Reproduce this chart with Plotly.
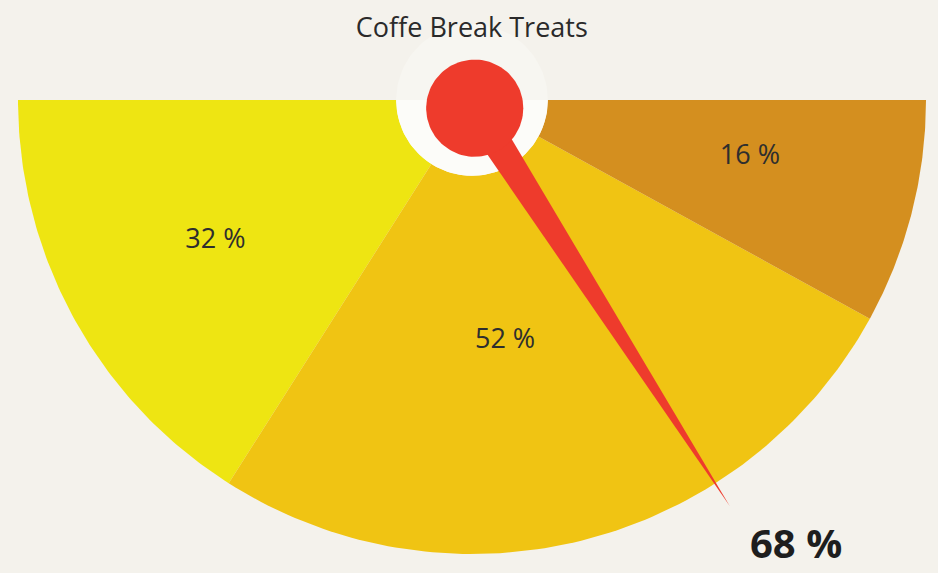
import numpy as np
import plotly.graph_objects as go

title = "Coffe Break Treats"
labels = ["32 %", "52 %", "16 %"]
shares = [32, 52, 16]
colors = ["#EEE512", "#F0C413", "#D48F1F"]
pointer_value = 68
pointer_label = "68 %"

# label placement (radius fraction, angle nudge in degrees)
label_radius = [0.645, 0.537, 0.625]
label_nudge = [0, -6.6, 2.8]

bg = "#F4F2EC"
font = "Open Sans"


def circle(cx, cy, r, t0=0, t1=2 * np.pi, n=120):
    t = np.linspace(t0, t1, n)
    return cx + r * np.cos(t), cy + r * np.sin(t)


fig = go.Figure()

# half-disc slices, 100 % = 180 degrees, starting at the left
cum = 0
mids = []
for share, col in zip(shares, colors):
    a0 = np.radians(180 + cum * 1.8)
    a1 = np.radians(180 + (cum + share) * 1.8)
    t = np.linspace(a0, a1, 100)
    x = np.concatenate([[0], np.cos(t), [0]])
    y = np.concatenate([[0], np.sin(t), [0]])
    fig.add_trace(go.Scatter(x=x, y=y, mode="lines", fill="toself",
                             fillcolor=col, line=dict(width=0),
                             hoverinfo="skip", showlegend=False))
    mids.append(np.degrees((a0 + a1) / 2))
    cum += share

# hole in the middle (faint above the edge, white below)
hx, hy = circle(0, 0, 0.167)
fig.add_trace(go.Scatter(x=hx, y=hy, mode="lines", fill="toself",
                         fillcolor="#F7F6F1", line=dict(width=0),
                         hoverinfo="skip", showlegend=False))
hx, hy = circle(0, 0, 0.167, np.pi, 2 * np.pi)
fig.add_trace(go.Scatter(x=hx, y=hy, mode="lines", fill="toself",
                         fillcolor="#FCFCF9", line=dict(width=0),
                         hoverinfo="skip", showlegend=False))

# needle
ang = np.radians(180 + pointer_value * 1.8)
cx, cy = 0.006, -0.018
w = 0.035
tip = (1.06 * np.cos(ang), 1.06 * np.sin(ang))
px, py = -np.sin(ang), np.cos(ang)
fig.add_trace(go.Scatter(x=[cx + w * px, tip[0], cx - w * px, cx + w * px],
                         y=[cy + w * py, tip[1], cy - w * py, cy + w * py],
                         mode="lines", fill="toself", fillcolor="#EE3B2C",
                         line=dict(width=0), hoverinfo="skip", showlegend=False))
rx, ry = circle(cx, cy, 0.107)
fig.add_trace(go.Scatter(x=rx, y=ry, mode="lines", fill="toself",
                         fillcolor="#EE3B2C", line=dict(width=0),
                         hoverinfo="skip", showlegend=False))

# slice labels
la = [np.radians(m + d) for m, d in zip(mids, label_nudge)]
fig.add_trace(go.Scatter(
    x=[r * np.cos(a) for r, a in zip(label_radius, la)],
    y=[r * np.sin(a) for r, a in zip(label_radius, la)],
    mode="text", text=labels,
    textfont=dict(family=font, size=27, color="#2E2E2E"),
    hoverinfo="skip", showlegend=False))

fig.add_annotation(x=tip[0] + 0.145, y=tip[1] - 0.08, text="<b>" + pointer_label + "</b>",
                   showarrow=False, font=dict(family=font, size=40, color="#1E1E1E"))

fig.update_layout(
    width=938, height=573,
    margin=dict(l=0, r=0, t=0, b=0),
    paper_bgcolor=bg, plot_bgcolor=bg,
    title=dict(text=title, x=0.503, y=1 - 28 / 573, xanchor="center", yanchor="middle",
               font=dict(family=font, size=27, color="#2A2A2A")),
    xaxis=dict(range=[-472 / 454, 466 / 454], visible=False, fixedrange=True),
    yaxis=dict(range=[-473 / 454, 100 / 454], visible=False, fixedrange=True),
)

fig.write_html("out.html", config={"displayModeBar": False},
               post_script="document.body.style.margin='0';")
